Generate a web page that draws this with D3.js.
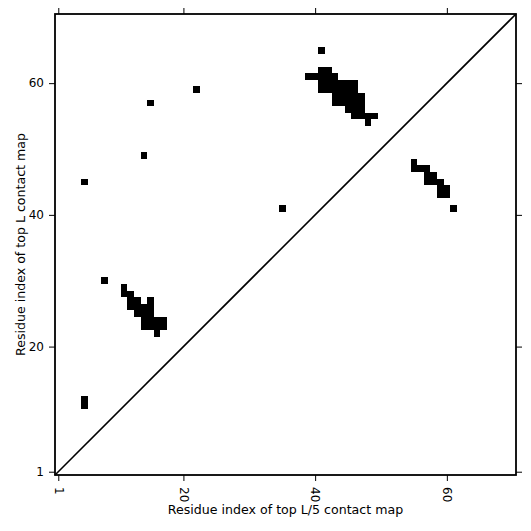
<!DOCTYPE html>
<html>
<head>
<meta charset="utf-8">
<script src="https://cdn.jsdelivr.net/npm/d3@7"></script>
<style>
  body { margin: 0; background: #fff; }
  text { font-family: "DejaVu Sans", sans-serif; fill: #000; }
</style>
</head>
<body>
<div id="chart"></div>
<script>
// sequence length and tick labels
const seqLength = 70;
const tickValues = [1, 20, 40, 60];

// top L contacts [i, j], drawn above the diagonal at (i, j)
const topLContacts = [
    [5, 11], [5, 12], [5, 45], [8, 30], [14, 49], [15, 57], [22, 59], [35, 41], [41, 65],
    [11, 29],
    [11, 28], [12, 28],
    [12, 27], [13, 27], [15, 27],
    [12, 26], [13, 26], [14, 26], [15, 26],
    [13, 25], [14, 25], [15, 25],
    [14, 24], [15, 24], [16, 24], [17, 24],
    [14, 23], [15, 23], [16, 23], [17, 23],
    [16, 22],
    [41, 62], [42, 62],
    [39, 61], [40, 61], [41, 61], [42, 61], [43, 61],
    [41, 60], [42, 60], [43, 60], [44, 60], [45, 60], [46, 60],
    [41, 59], [42, 59], [43, 59], [44, 59], [45, 59], [46, 59],
    [43, 58], [44, 58], [45, 58], [46, 58], [47, 58],
    [43, 57], [44, 57], [45, 57], [46, 57], [47, 57],
    [45, 56], [46, 56], [47, 56],
    [46, 55], [47, 55], [48, 55], [49, 55],
    [48, 54]
];

// top L/5 contacts [i, j], drawn below the diagonal at (j, i)
const topL5Contacts = [
    [48, 55],
    [47, 55], [47, 56], [47, 57],
    [46, 57], [46, 58],
    [45, 57], [45, 58], [45, 59],
    [44, 59], [44, 60],
    [43, 59], [43, 60],
    [41, 61]
];

const margin = {top: 14, right: 15, bottom: 56, left: 55};
const width = 531 - margin.left - margin.right;
const height = 531 - margin.top - margin.bottom;

const x = d3.scaleLinear()
    .domain([0.5, seqLength + 0.5])
    .range([0, width]);

const y = d3.scaleLinear()
    .domain([0.5, seqLength + 0.5])
    .range([height, 0]);

const svg = d3.select("#chart").append("svg")
    .attr("width", width + margin.left + margin.right)
    .attr("height", height + margin.top + margin.bottom);

const g = svg.append("g")
    .attr("transform", `translate(${margin.left},${margin.top})`);

// contact cells
const cells = topLContacts.map(d => ({cx: d[0], cy: d[1]}))
    .concat(topL5Contacts.map(d => ({cx: d[1], cy: d[0]})));

g.append("g").selectAll("rect")
    .data(cells)
    .enter().append("rect")
    .attr("x", d => x(d.cx - 0.5))
    .attr("y", d => y(d.cy + 0.5))
    .attr("width", d => x(d.cx + 0.5) - x(d.cx - 0.5))
    .attr("height", d => y(d.cy - 0.5) - y(d.cy + 0.5))
    .attr("fill", "#000")
    .attr("shape-rendering", "crispEdges");

// diagonal
g.append("line")
    .attr("x1", x(0.5)).attr("y1", y(0.5))
    .attr("x2", x(seqLength + 0.5)).attr("y2", y(seqLength + 0.5))
    .attr("stroke", "#000")
    .attr("stroke-width", 1.6);

// axes on all four sides
const xAxis = g.append("g")
    .attr("transform", `translate(0,${height})`)
    .call(d3.axisBottom(x).tickValues(tickValues).tickSize(6).tickPadding(7));
xAxis.selectAll("text")
    .style("font-size", "12px")
    .attr("transform", "rotate(90)")
    .attr("x", 0)
    .attr("y", 0)
    .attr("dx", "12px")
    .attr("dy", "0.35em")
    .style("text-anchor", "start");

const yAxis = g.append("g")
    .call(d3.axisLeft(y).tickValues(tickValues).tickSize(6).tickPadding(5));
yAxis.selectAll("text").style("font-size", "12px");

g.append("g")
    .call(d3.axisTop(x).tickValues(tickValues).tickSize(6).tickFormat(""));
g.append("g")
    .attr("transform", `translate(${width},0)`)
    .call(d3.axisRight(y).tickValues(tickValues).tickSize(6).tickFormat(""));

g.selectAll(".domain").remove();
g.selectAll(".tick line").attr("stroke", "#000").attr("stroke-width", 1);

// frame
g.append("rect")
    .attr("width", width)
    .attr("height", height)
    .attr("fill", "none")
    .attr("stroke", "#000")
    .attr("stroke-width", 1.8);

// axis labels
svg.append("text")
    .attr("x", margin.left + width / 2)
    .attr("y", 514)
    .attr("text-anchor", "middle")
    .style("font-size", "12.6px")
    .text("Residue index of top L/5 contact map");

svg.append("text")
    .attr("transform", `translate(25,${margin.top + height / 2}) rotate(-90)`)
    .attr("text-anchor", "middle")
    .style("font-size", "12.6px")
    .text("Residue index of top L contact map");
</script>
</body>
</html>
